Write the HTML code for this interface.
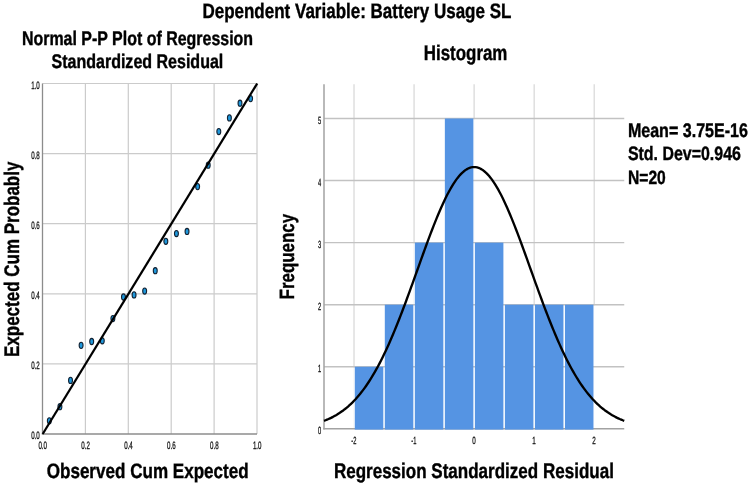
<!DOCTYPE html>
<html><head><meta charset="utf-8"><style>
html,body{margin:0;padding:0;background:#fff;width:749px;height:488px;overflow:hidden}
text{font-family:"Liberation Sans",sans-serif;text-rendering:geometricPrecision}
</style></head><body>
<svg width="749" height="488" viewBox="0 0 749 488" style="display:block;will-change:transform">
<rect width="749" height="488" fill="#fff"/>
<line x1="85.40" y1="83.50" x2="85.40" y2="434.00" stroke="#cbcbcb" stroke-width="1.2"/>
<line x1="128.30" y1="83.50" x2="128.30" y2="434.00" stroke="#cbcbcb" stroke-width="1.2"/>
<line x1="171.20" y1="83.50" x2="171.20" y2="434.00" stroke="#cbcbcb" stroke-width="1.2"/>
<line x1="214.10" y1="83.50" x2="214.10" y2="434.00" stroke="#cbcbcb" stroke-width="1.2"/>
<line x1="257.00" y1="83.50" x2="257.00" y2="434.00" stroke="#cbcbcb" stroke-width="1.2"/>
<line x1="42.50" y1="363.90" x2="257.00" y2="363.90" stroke="#cbcbcb" stroke-width="1.2"/>
<line x1="42.50" y1="293.80" x2="257.00" y2="293.80" stroke="#cbcbcb" stroke-width="1.2"/>
<line x1="42.50" y1="223.70" x2="257.00" y2="223.70" stroke="#cbcbcb" stroke-width="1.2"/>
<line x1="42.50" y1="153.60" x2="257.00" y2="153.60" stroke="#cbcbcb" stroke-width="1.2"/>
<line x1="42.50" y1="83.50" x2="257.00" y2="83.50" stroke="#cbcbcb" stroke-width="1.2"/>
<line x1="42.50" y1="83.50" x2="42.50" y2="434.60" stroke="#8c8c8c" stroke-width="1.3"/>
<line x1="41.90" y1="434.00" x2="257.00" y2="434.00" stroke="#8c8c8c" stroke-width="1.3"/>
<ellipse cx="49.32" cy="420.84" rx="1.95" ry="3.1" fill="#1e98dc" stroke="#122233" stroke-width="1.1"/>
<ellipse cx="59.91" cy="406.71" rx="1.95" ry="3.1" fill="#1e98dc" stroke="#122233" stroke-width="1.1"/>
<ellipse cx="70.51" cy="380.42" rx="1.95" ry="3.1" fill="#1e98dc" stroke="#122233" stroke-width="1.1"/>
<ellipse cx="81.10" cy="345.37" rx="1.95" ry="3.1" fill="#1e98dc" stroke="#122233" stroke-width="1.1"/>
<ellipse cx="91.69" cy="341.52" rx="1.95" ry="3.1" fill="#1e98dc" stroke="#122233" stroke-width="1.1"/>
<ellipse cx="102.28" cy="340.82" rx="1.95" ry="3.1" fill="#1e98dc" stroke="#122233" stroke-width="1.1"/>
<ellipse cx="112.88" cy="318.56" rx="1.95" ry="3.1" fill="#1e98dc" stroke="#122233" stroke-width="1.1"/>
<ellipse cx="123.47" cy="297.00" rx="1.95" ry="3.1" fill="#1e98dc" stroke="#122233" stroke-width="1.1"/>
<ellipse cx="134.06" cy="294.90" rx="1.95" ry="3.1" fill="#1e98dc" stroke="#122233" stroke-width="1.1"/>
<ellipse cx="144.65" cy="291.05" rx="1.95" ry="3.1" fill="#1e98dc" stroke="#122233" stroke-width="1.1"/>
<ellipse cx="155.25" cy="270.72" rx="1.95" ry="3.1" fill="#1e98dc" stroke="#122233" stroke-width="1.1"/>
<ellipse cx="165.84" cy="241.28" rx="1.95" ry="3.1" fill="#1e98dc" stroke="#122233" stroke-width="1.1"/>
<ellipse cx="176.43" cy="233.56" rx="1.95" ry="3.1" fill="#1e98dc" stroke="#122233" stroke-width="1.1"/>
<ellipse cx="187.02" cy="231.46" rx="1.95" ry="3.1" fill="#1e98dc" stroke="#122233" stroke-width="1.1"/>
<ellipse cx="197.62" cy="186.60" rx="1.95" ry="3.1" fill="#1e98dc" stroke="#122233" stroke-width="1.1"/>
<ellipse cx="208.21" cy="165.22" rx="1.95" ry="3.1" fill="#1e98dc" stroke="#122233" stroke-width="1.1"/>
<ellipse cx="218.80" cy="131.57" rx="1.95" ry="3.1" fill="#1e98dc" stroke="#122233" stroke-width="1.1"/>
<ellipse cx="229.39" cy="117.90" rx="1.95" ry="3.1" fill="#1e98dc" stroke="#122233" stroke-width="1.1"/>
<ellipse cx="239.99" cy="103.18" rx="1.95" ry="3.1" fill="#1e98dc" stroke="#122233" stroke-width="1.1"/>
<ellipse cx="250.58" cy="98.62" rx="1.95" ry="3.1" fill="#1e98dc" stroke="#122233" stroke-width="1.1"/>
<line x1="42.70" y1="434.00" x2="257.20" y2="83.50" stroke="#000" stroke-width="2.25"/>
<text x="39.8" y="439.20" font-family="Liberation Sans, sans-serif" font-size="10.8" text-anchor="end" textLength="8.6" lengthAdjust="spacingAndGlyphs" fill="#111" stroke="#111" stroke-width="0.3">0.0</text>
<text x="39.8" y="369.10" font-family="Liberation Sans, sans-serif" font-size="10.8" text-anchor="end" textLength="8.6" lengthAdjust="spacingAndGlyphs" fill="#111" stroke="#111" stroke-width="0.3">0.2</text>
<text x="39.8" y="299.00" font-family="Liberation Sans, sans-serif" font-size="10.8" text-anchor="end" textLength="8.6" lengthAdjust="spacingAndGlyphs" fill="#111" stroke="#111" stroke-width="0.3">0.4</text>
<text x="39.8" y="228.90" font-family="Liberation Sans, sans-serif" font-size="10.8" text-anchor="end" textLength="8.6" lengthAdjust="spacingAndGlyphs" fill="#111" stroke="#111" stroke-width="0.3">0.6</text>
<text x="39.8" y="158.80" font-family="Liberation Sans, sans-serif" font-size="10.8" text-anchor="end" textLength="8.6" lengthAdjust="spacingAndGlyphs" fill="#111" stroke="#111" stroke-width="0.3">0.8</text>
<text x="39.8" y="88.70" font-family="Liberation Sans, sans-serif" font-size="10.8" text-anchor="end" textLength="8.6" lengthAdjust="spacingAndGlyphs" fill="#111" stroke="#111" stroke-width="0.3">1.0</text>
<text x="38.40" y="448.8" font-family="Liberation Sans, sans-serif" font-size="10.8" textLength="8.6" lengthAdjust="spacingAndGlyphs" fill="#111" stroke="#111" stroke-width="0.3">0.0</text>
<text x="81.30" y="448.8" font-family="Liberation Sans, sans-serif" font-size="10.8" textLength="8.6" lengthAdjust="spacingAndGlyphs" fill="#111" stroke="#111" stroke-width="0.3">0.2</text>
<text x="124.20" y="448.8" font-family="Liberation Sans, sans-serif" font-size="10.8" textLength="8.6" lengthAdjust="spacingAndGlyphs" fill="#111" stroke="#111" stroke-width="0.3">0.4</text>
<text x="167.10" y="448.8" font-family="Liberation Sans, sans-serif" font-size="10.8" textLength="8.6" lengthAdjust="spacingAndGlyphs" fill="#111" stroke="#111" stroke-width="0.3">0.6</text>
<text x="210.00" y="448.8" font-family="Liberation Sans, sans-serif" font-size="10.8" textLength="8.6" lengthAdjust="spacingAndGlyphs" fill="#111" stroke="#111" stroke-width="0.3">0.8</text>
<text x="252.90" y="448.8" font-family="Liberation Sans, sans-serif" font-size="10.8" textLength="8.6" lengthAdjust="spacingAndGlyphs" fill="#111" stroke="#111" stroke-width="0.3">1.0</text>
<line x1="354.02" y1="84.2" x2="354.02" y2="428.8" stroke="#dadada" stroke-width="1.3"/>
<line x1="414.07" y1="84.2" x2="414.07" y2="428.8" stroke="#dadada" stroke-width="1.3"/>
<line x1="474.12" y1="84.2" x2="474.12" y2="428.8" stroke="#dadada" stroke-width="1.3"/>
<line x1="534.17" y1="84.2" x2="534.17" y2="428.8" stroke="#dadada" stroke-width="1.3"/>
<line x1="594.22" y1="84.2" x2="594.22" y2="428.8" stroke="#dadada" stroke-width="1.3"/>
<rect x="353.27" y="367.44" width="31.53" height="60.66" fill="#fff"/>
<rect x="383.30" y="305.38" width="31.52" height="122.72" fill="#fff"/>
<rect x="413.32" y="243.32" width="31.53" height="184.78" fill="#fff"/>
<rect x="443.35" y="119.20" width="31.52" height="308.90" fill="#fff"/>
<rect x="473.38" y="243.32" width="31.52" height="184.78" fill="#fff"/>
<rect x="503.40" y="305.38" width="31.52" height="122.72" fill="#fff"/>
<rect x="533.42" y="305.38" width="31.53" height="122.72" fill="#fff"/>
<rect x="563.45" y="305.38" width="31.52" height="122.72" fill="#fff"/>
<line x1="324.0" y1="366.74" x2="624.25" y2="366.74" stroke="#c2c2c2" stroke-width="1.4"/>
<line x1="324.0" y1="304.68" x2="624.25" y2="304.68" stroke="#c2c2c2" stroke-width="1.4"/>
<line x1="324.0" y1="242.62" x2="624.25" y2="242.62" stroke="#c2c2c2" stroke-width="1.4"/>
<line x1="324.0" y1="180.56" x2="624.25" y2="180.56" stroke="#c2c2c2" stroke-width="1.4"/>
<line x1="324.0" y1="118.50" x2="624.25" y2="118.50" stroke="#c2c2c2" stroke-width="1.4"/>
<line x1="324.0" y1="84.2" x2="324.0" y2="429.5" stroke="#a2a2a2" stroke-width="1.5"/>
<line x1="323.3" y1="428.8" x2="624.25" y2="428.8" stroke="#a2a2a2" stroke-width="1.5"/>
<rect x="354.77" y="366.74" width="28.53" height="62.86" fill="#5594e3"/>
<rect x="384.80" y="304.68" width="28.52" height="124.92" fill="#5594e3"/>
<rect x="414.82" y="242.62" width="28.53" height="186.98" fill="#5594e3"/>
<rect x="444.85" y="118.50" width="28.52" height="311.10" fill="#5594e3"/>
<rect x="474.88" y="242.62" width="28.52" height="186.98" fill="#5594e3"/>
<rect x="504.90" y="304.68" width="28.52" height="124.92" fill="#5594e3"/>
<rect x="534.92" y="304.68" width="28.53" height="124.92" fill="#5594e3"/>
<rect x="564.95" y="304.68" width="28.52" height="124.92" fill="#5594e3"/>
<polyline points="324.00,420.83 325.50,420.26 327.00,419.65 328.50,419.01 330.00,418.32 331.51,417.60 333.01,416.84 334.51,416.03 336.01,415.18 337.51,414.28 339.01,413.33 340.51,412.33 342.01,411.28 343.52,410.18 345.02,409.02 346.52,407.80 348.02,406.53 349.52,405.19 351.02,403.79 352.52,402.33 354.02,400.79 355.53,399.20 357.03,397.53 358.53,395.79 360.03,393.98 361.53,392.09 363.03,390.13 364.53,388.09 366.03,385.98 367.54,383.79 369.04,381.51 370.54,379.16 372.04,376.73 373.54,374.22 375.04,371.62 376.54,368.95 378.05,366.19 379.55,363.35 381.05,360.43 382.55,357.43 384.05,354.35 385.55,351.19 387.05,347.95 388.55,344.64 390.06,341.25 391.56,337.79 393.06,334.26 394.56,330.66 396.06,327.00 397.56,323.27 399.06,319.48 400.56,315.64 402.06,311.74 403.57,307.79 405.07,303.79 406.57,299.76 408.07,295.68 409.57,291.58 411.07,287.44 412.57,283.29 414.07,279.11 415.58,274.93 417.08,270.73 418.58,266.54 420.08,262.35 421.58,258.17 423.08,254.01 424.58,249.87 426.08,245.76 427.59,241.69 429.09,237.66 430.59,233.69 432.09,229.76 433.59,225.90 435.09,222.11 436.59,218.40 438.09,214.77 439.60,211.23 441.10,207.78 442.60,204.44 444.10,201.20 445.60,198.08 447.10,195.08 448.60,192.21 450.11,189.46 451.61,186.86 453.11,184.40 454.61,182.08 456.11,179.92 457.61,177.91 459.11,176.07 460.61,174.38 462.12,172.87 463.62,171.52 465.12,170.35 466.62,169.36 468.12,168.54 469.62,167.90 471.12,167.45 472.62,167.18 474.12,167.08 475.63,167.18 477.13,167.45 478.63,167.90 480.13,168.54 481.63,169.36 483.13,170.35 484.63,171.52 486.13,172.87 487.64,174.38 489.14,176.07 490.64,177.91 492.14,179.92 493.64,182.08 495.14,184.40 496.64,186.86 498.14,189.46 499.65,192.21 501.15,195.08 502.65,198.08 504.15,201.20 505.65,204.44 507.15,207.78 508.65,211.23 510.15,214.77 511.66,218.40 513.16,222.11 514.66,225.90 516.16,229.76 517.66,233.69 519.16,237.66 520.66,241.69 522.16,245.76 523.67,249.87 525.17,254.01 526.67,258.17 528.17,262.35 529.67,266.54 531.17,270.73 532.67,274.93 534.17,279.11 535.68,283.29 537.18,287.44 538.68,291.58 540.18,295.68 541.68,299.76 543.18,303.79 544.68,307.79 546.18,311.74 547.69,315.64 549.19,319.48 550.69,323.27 552.19,327.00 553.69,330.66 555.19,334.26 556.69,337.79 558.19,341.25 559.70,344.64 561.20,347.95 562.70,351.19 564.20,354.35 565.70,357.43 567.20,360.43 568.70,363.35 570.20,366.19 571.71,368.95 573.21,371.62 574.71,374.22 576.21,376.73 577.71,379.16 579.21,381.51 580.71,383.79 582.21,385.98 583.72,388.09 585.22,390.13 586.72,392.09 588.22,393.98 589.72,395.79 591.22,397.53 592.72,399.20 594.22,400.79 595.73,402.33 597.23,403.79 598.73,405.19 600.23,406.53 601.73,407.80 603.23,409.02 604.73,410.18 606.24,411.28 607.74,412.33 609.24,413.33 610.74,414.28 612.24,415.18 613.74,416.03 615.24,416.84 616.74,417.60 618.25,418.32 619.75,419.01 621.25,419.65 622.75,420.26 624.25,420.83" fill="none" stroke="#000" stroke-width="2.35" stroke-linejoin="round"/>
<text x="321.3" y="433.80" font-family="Liberation Sans, sans-serif" font-size="10.4" text-anchor="end" textLength="3.2" lengthAdjust="spacingAndGlyphs" fill="#111" stroke="#111" stroke-width="0.3">0</text>
<text x="321.3" y="371.74" font-family="Liberation Sans, sans-serif" font-size="10.4" text-anchor="end" textLength="3.2" lengthAdjust="spacingAndGlyphs" fill="#111" stroke="#111" stroke-width="0.3">1</text>
<text x="321.3" y="309.68" font-family="Liberation Sans, sans-serif" font-size="10.4" text-anchor="end" textLength="3.2" lengthAdjust="spacingAndGlyphs" fill="#111" stroke="#111" stroke-width="0.3">2</text>
<text x="321.3" y="247.62" font-family="Liberation Sans, sans-serif" font-size="10.4" text-anchor="end" textLength="3.2" lengthAdjust="spacingAndGlyphs" fill="#111" stroke="#111" stroke-width="0.3">3</text>
<text x="321.3" y="185.56" font-family="Liberation Sans, sans-serif" font-size="10.4" text-anchor="end" textLength="3.2" lengthAdjust="spacingAndGlyphs" fill="#111" stroke="#111" stroke-width="0.3">4</text>
<text x="321.3" y="123.50" font-family="Liberation Sans, sans-serif" font-size="10.4" text-anchor="end" textLength="3.2" lengthAdjust="spacingAndGlyphs" fill="#111" stroke="#111" stroke-width="0.3">5</text>
<text x="351.22" y="443.6" font-family="Liberation Sans, sans-serif" font-size="10.4" textLength="5.1" lengthAdjust="spacingAndGlyphs" fill="#111" stroke="#111" stroke-width="0.3">-2</text>
<text x="411.27" y="443.6" font-family="Liberation Sans, sans-serif" font-size="10.4" textLength="5.1" lengthAdjust="spacingAndGlyphs" fill="#111" stroke="#111" stroke-width="0.3">-1</text>
<text x="472.23" y="443.6" font-family="Liberation Sans, sans-serif" font-size="10.4" textLength="3.5" lengthAdjust="spacingAndGlyphs" fill="#111" stroke="#111" stroke-width="0.3">0</text>
<text x="532.27" y="443.6" font-family="Liberation Sans, sans-serif" font-size="10.4" textLength="3.5" lengthAdjust="spacingAndGlyphs" fill="#111" stroke="#111" stroke-width="0.3">1</text>
<text x="592.32" y="443.6" font-family="Liberation Sans, sans-serif" font-size="10.4" textLength="3.5" lengthAdjust="spacingAndGlyphs" fill="#111" stroke="#111" stroke-width="0.3">2</text>
<text x="202.4" y="18.0" font-family="Liberation Sans, sans-serif" font-weight="bold" stroke="#000" stroke-width="0.4" font-size="20.9" textLength="309.0" lengthAdjust="spacingAndGlyphs" fill="#000" >Dependent Variable: Battery Usage SL</text>
<text x="21.9" y="45.0" font-family="Liberation Sans, sans-serif" font-weight="bold" stroke="#000" stroke-width="0.4" font-size="19.7" textLength="231.2" lengthAdjust="spacingAndGlyphs" fill="#000" >Normal P-P Plot of Regression</text>
<text x="51.5" y="67.6" font-family="Liberation Sans, sans-serif" font-weight="bold" stroke="#000" stroke-width="0.4" font-size="19.7" textLength="171.8" lengthAdjust="spacingAndGlyphs" fill="#000" >Standardized Residual</text>
<text x="423.8" y="59.7" font-family="Liberation Sans, sans-serif" font-weight="bold" stroke="#000" stroke-width="0.4" font-size="21.2" textLength="83.6" lengthAdjust="spacingAndGlyphs" fill="#000" >Histogram</text>
<text x="627.9" y="136.9" font-family="Liberation Sans, sans-serif" font-weight="bold" stroke="#000" stroke-width="0.4" font-size="19.6" textLength="120.0" lengthAdjust="spacingAndGlyphs" fill="#000" >Mean= 3.75E-16</text>
<text x="627.9" y="159.8" font-family="Liberation Sans, sans-serif" font-weight="bold" stroke="#000" stroke-width="0.4" font-size="19.4" textLength="113.0" lengthAdjust="spacingAndGlyphs" fill="#000" >Std. Dev=0.946</text>
<text x="628.0" y="183.6" font-family="Liberation Sans, sans-serif" font-weight="bold" stroke="#000" stroke-width="0.4" font-size="19.2" textLength="37.8" lengthAdjust="spacingAndGlyphs" fill="#000" >N=20</text>
<text x="46.7" y="477.8" font-family="Liberation Sans, sans-serif" font-weight="bold" stroke="#000" stroke-width="0.4" font-size="20.9" textLength="202.0" lengthAdjust="spacingAndGlyphs" fill="#000" >Observed Cum Expected</text>
<text x="333.9" y="477.9" font-family="Liberation Sans, sans-serif" font-weight="bold" stroke="#000" stroke-width="0.4" font-size="21.1" textLength="280.0" lengthAdjust="spacingAndGlyphs" fill="#000" >Regression Standardized Residual</text>
<text transform="translate(294.4,299.4) rotate(-90)" font-family="Liberation Sans, sans-serif" font-weight="bold" stroke="#000" stroke-width="0.4" font-size="20.6" textLength="85.6" lengthAdjust="spacingAndGlyphs" fill="#000">Frequency</text>
<text transform="translate(18.5,357.0) rotate(-90)" font-family="Liberation Sans, sans-serif" font-weight="bold" stroke="#000" stroke-width="0.4" font-size="21.0" textLength="195.4" lengthAdjust="spacingAndGlyphs" fill="#000">Expected Cum Probably</text>
</svg>
</body></html>
